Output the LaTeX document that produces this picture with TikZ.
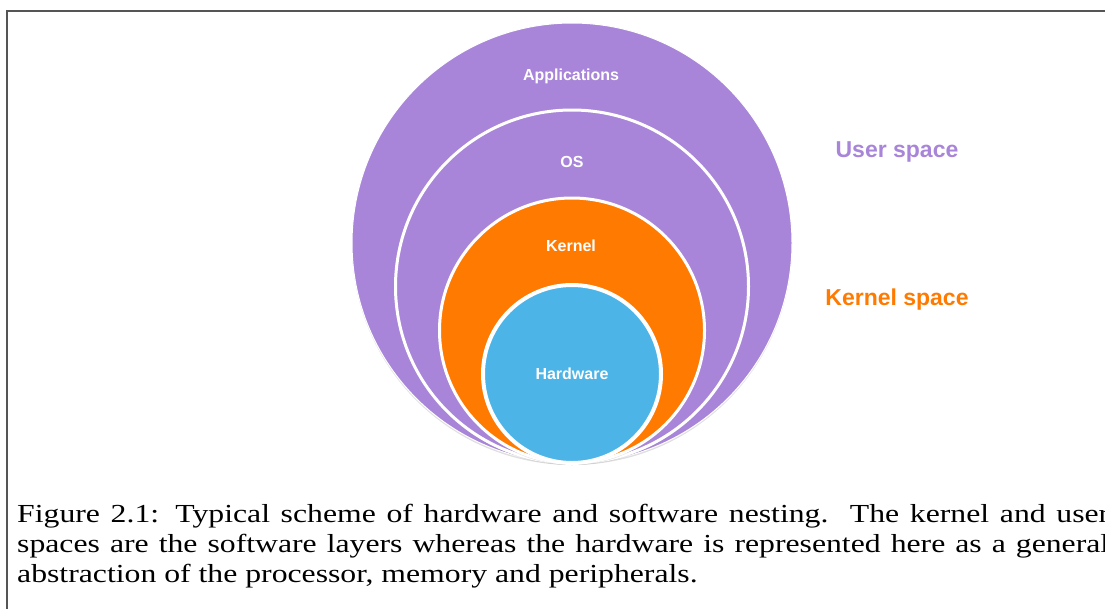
\documentclass[tikz,border=0pt]{standalone}
\usepackage{fontspec}
\usepackage{tikz}
\usetikzlibrary{positioning, shadows}
\newfontfamily\rotulo{Liberation Sans}
\newfontfamily\leyenda[FakeStretch=1.22]{Liberation Serif}
\definecolor{moradito}{RGB}{168,133,216}
\definecolor{naranjita}{RGB}{255,122,0}
\definecolor{celestito}{RGB}{76,180,230}
\definecolor{marquito}{RGB}{85,85,85}
\newcommand{\lineajusta}[1]{\hbox to 1092pt{#1}}
\tikzset{>=stealth,
	capa/.style={circle, draw=white, line width=3pt, inner sep=0pt, outer sep=0pt, anchor=south,
		drop shadow={shadow xshift=0pt, shadow yshift=-2pt, opacity=.25}},
	rotulo capa/.style={anchor=base, text=white, font=\rotulo\bfseries\fontsize{16}{19}\selectfont},
	rotulo espacio/.style={anchor=base, font=\rotulo\bfseries\fontsize{23}{27}\selectfont},
	linea leyenda/.style={anchor=base west, inner sep=0pt, font=\leyenda\fontsize{26}{30}\selectfont}}

\begin{document}
\begin{tikzpicture}[x=1pt, y=-1pt]
	\useasboundingbox (0,0) rectangle (1105,608);
	\draw [marquito, line width=1.5pt] (7,640) -- (7,11) -- (1140,11);

	% capas anidadas, todas tocan el mismo punto de abajo
	\coordinate (fondo) at (572,463);
	\node [capa, fill=moradito, line width=1pt, minimum size=440pt] (apps) at (fondo) {};
	\node [capa, fill=moradito, minimum size=353pt] (os) at (fondo) {};
	\node [capa, fill=naranjita, minimum size=265pt] (kernel) at (fondo) {};
	\node [capa, fill=celestito, line width=4pt, minimum size=178pt] (hw) at (fondo) {};

	\node [rotulo capa] (apps label) at (571,80.5) {Applications};
	\node [rotulo capa] (os label) at (572,167) {OS};
	\node [rotulo capa] (kernel label) at (571,251) {Kernel};
	\node [rotulo capa] (hw label) at (572,379) {Hardware};

	\node [rotulo espacio, moradito] (user space) at (897,157) {User space};
	\node [rotulo espacio, naranjita] (kernel space) at (897,305) {Kernel space};

	\node [linea leyenda] (cap1) at (17,522.3) {\lineajusta{Figure 2.1: Typical scheme of hardware and software nesting.\ \ The kernel and user}};
	\node [linea leyenda] (cap2) at (17,552.3) {\lineajusta{spaces are the software layers whereas the hardware is represented here as a general}};
	\node [linea leyenda] (cap3) at (17,582.3) {abstraction of the processor, memory and peripherals.};
\end{tikzpicture}
\end{document}
